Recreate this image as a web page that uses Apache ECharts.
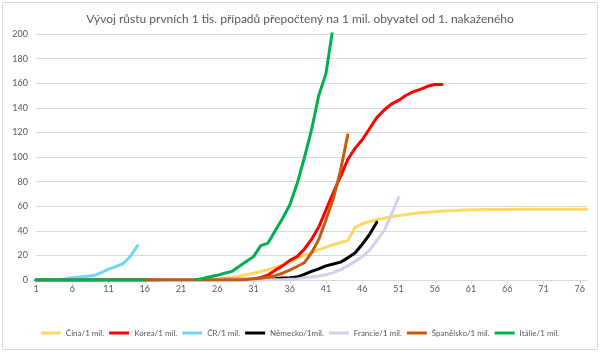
<!DOCTYPE html>
<html>
<head>
<meta charset="utf-8">
<script src="https://cdn.jsdelivr.net/npm/echarts@6/dist/echarts.min.js"></script>
<style>
  html, body { margin: 0; padding: 0; background: #ffffff; }
  #echarts-growth { width: 600px; height: 353px; }
</style>
</head>
<body>
<div id="echarts-growth"></div>
<script>
// Get dom in html
let growth_chart_dom = document.getElementById("echarts-growth");
// Initial chart
let growth_chart = echarts.init(growth_chart_dom);
//----------------------Data----------------------
// day since first case, 1..77
let growth_days = [];
for (let d = 1; d <= 77; d++) growth_days.push(String(d));

let growth_names = ["Čína/1 mil.", "Korea/1 mil.", "ČR/1 mil.", "Německo/1mil.", "Francie/1 mil.", "Španělsko/1 mil.", "Itálie/1 mil."];
let growth_colors = ["#FFD966", "#FF0000", "#75D3F3", "#000000", "#D9CDEE", "#C55A11", "#00B050"];

let china_values = [
    0, 0, 0, 0, 0, 0, 0, 0, 0, 0,
    0, 0, 0, 0, 0, 0, 0, 0, 0, 0,
    0.1, 0.2, 0.3, 0.4, 0.6, 0.9, 1.4, 2.0, 3.2, 4.3,
    5.5, 6.9, 8.4, 10.3, 12.3, 14.6, 17.4, 20, 22.3, 24.7,
    26.6, 28.7, 30.5, 31.9, 42.7, 45.7, 47.5, 49, 50.2, 51.4,
    52.5, 53.1, 54, 54.6, 55.1, 55.5, 56, 56.3, 56.6, 56.9,
    57.1, 57.2, 57.3, 57.3, 57.4, 57.4, 57.5, 57.5, 57.5, 57.5,
    57.5, 57.6, 57.6, 57.6, 57.6, 57.6, 57.6
];
let korea_values = [
    0, 0, 0, 0, 0, 0, 0.1, 0.1, 0.1, 0.2,
    0.2, 0.2, 0.2, 0.3, 0.3, 0.3, 0.3, 0.3, 0.4, 0.4,
    0.5, 0.5, 0.5, 0.5, 0.5, 0.5, 0.6, 0.6, 0.6, 0.6,
    0.9, 2, 4, 8, 11.5, 16, 19, 25, 33, 43,
    57, 71, 84, 98, 107, 114, 123, 132, 138, 143,
    146, 150, 153, 155, 157.5, 159, 159
];
let cr_values = [0.3, 0.3, 0.5, 0.5, 0.8, 1.8, 2.4, 3, 3.6, 6, 8.8, 10.8, 13.2, 19, 28];
let germany_values = [
    0, 0, 0, 0, 0, 0, 0, 0, 0.1, 0.1,
    0.1, 0.1, 0.1, 0.1, 0.1, 0.1, 0.1, 0.2, 0.2, 0.2,
    0.2, 0.2, 0.2, 0.2, 0.2, 0.2, 0.2, 0.2, 0.2, 0.2,
    0.3, 0.3, 0.6, 1.0, 1.6, 1.9, 2.4, 4.5, 7, 9,
    11.5, 13, 14.5, 18, 22, 29, 37, 47
];
let france_values = [
    0, 0, 0, 0, 0, 0, 0, 0, 0.1, 0.1,
    0.1, 0.1, 0.1, 0.1, 0.1, 0.1, 0.1, 0.2, 0.2, 0.2,
    0.2, 0.2, 0.2, 0.2, 0.2, 0.2, 0.2, 0.2, 0.2, 0.2,
    0.2, 0.2, 0.2, 0.3, 0.3, 0.6, 0.9, 1.9, 2.5, 3.2,
    4.3, 6, 8.5, 11.5, 15, 19, 24, 32, 40, 53,
    67
];
let spain_values = [
    0, 0, 0, 0, 0, 0, 0, 0, 0, 0,
    0, 0, 0, 0, 0, 0, 0, 0, 0, 0,
    0, 0, 0, 0, 0, 0.1, 0.1, 0.1, 0.2, 0.5,
    1, 1.5, 2.5, 3.5, 5.5, 8, 11, 14, 22, 33,
    49, 66, 89, 118
];
let italy_values = [
    0, 0, 0, 0, 0, 0, 0, 0, 0, 0,
    0, 0, 0, 0, 0, 0, null, null, null, null,
    null, null, 0.3, 1.3, 2.6, 3.8, 5.5, 7, 11, 15,
    19, 28, 30, 40, 50, 61, 78, 99, 122, 150,
    168, 207
];
let growth_values = [china_values, korea_values, cr_values, germany_values, france_values, spain_values, italy_values];
//--------------------Location--------------------
let growth_font = 'Lato, "Open Sans", sans-serif';
let growth_grid = {
    left: 36,
    right: 13,
    top: 34,
    bottom: 73,
    containLabel: false,
};
//----------------------Axis----------------------
let growth_xAxis = {
    type: 'category',
    boundaryGap: false,
    data: growth_days,
    axisLine: {show: true, lineStyle: {color: '#D9D9D9', width: 1}},
    axisTick: {show: true, interval: 4, length: 4, lineStyle: {color: '#D9D9D9'}},
    axisLabel: {interval: 4, color: '#595959', fontSize: 9, margin: 5, fontFamily: growth_font},
    splitLine: {show: false},
};
let growth_yAxis = {
    type: 'value',
    min: 0,
    max: 200,
    interval: 20,
    axisLine: {show: false},
    axisTick: {show: false},
    axisLabel: {color: '#595959', fontSize: 9, margin: 8, fontFamily: growth_font},
    splitLine: {lineStyle: {color: '#D9D9D9', width: 1}},
};
//---------------------Series---------------------
let growth_series = [];
for (let i = 0; i < growth_names.length; i++) {
    growth_series.push({
        name: growth_names[i],
        type: 'line',
        data: growth_values[i],
        symbol: 'none',
        smooth: false,
        clip: true,
        connectNulls: false,
        lineStyle: {color: growth_colors[i], width: 3, join: 'round', cap: 'round'},
        itemStyle: {color: growth_colors[i]},
        emphasis: {disabled: true},
    });
}
//------------------Generate Graph------------------
let growth_option = {
    backgroundColor: '#ffffff',
    animation: false,
    title: {
        text: 'Vývoj růstu prvních 1 tis. případů přepočtený na 1 mil. obyvatel od 1. nakaženého',
        left: 'center',
        top: 8,
        textStyle: {color: '#595959', fontSize: 12, fontWeight: 'normal', fontFamily: growth_font},
    },
    legend: {
        data: growth_names,
        left: 'center',
        top: 324,
        icon: 'rect',
        itemWidth: 20,
        itemHeight: 3,
        itemGap: 5,
        textStyle: {color: '#595959', fontSize: 8, fontFamily: growth_font},
    },
    graphic: [{
        type: 'rect',
        shape: {x: 2.5, y: 2.5, width: 595, height: 347},
        style: {fill: 'none', stroke: '#D9D9D9', lineWidth: 1},
        silent: true,
    }],
    grid: growth_grid,
    xAxis: growth_xAxis,
    yAxis: growth_yAxis,
    series: growth_series,
};
if (growth_option && typeof growth_option === "object") {
    growth_chart.setOption(growth_option, true);
}
</script>
</body>
</html>
